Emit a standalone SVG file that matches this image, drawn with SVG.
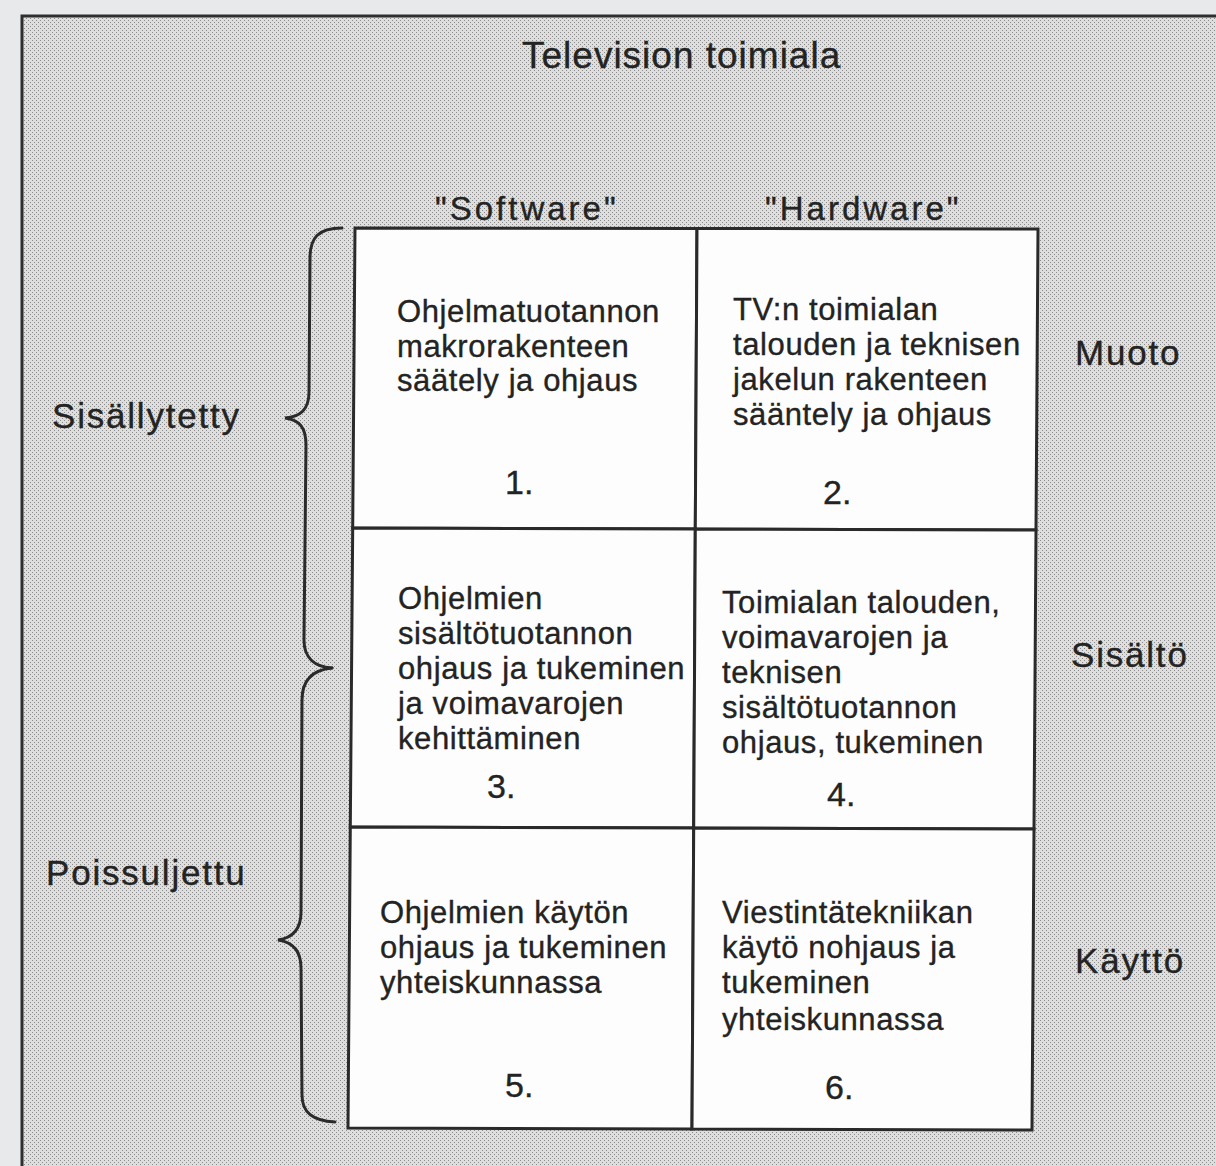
<svg xmlns="http://www.w3.org/2000/svg" width="1216" height="1166" viewBox="0 0 1216 1166">
  <defs>
    <pattern id="stip" x="0" y="0" width="4" height="4" patternUnits="userSpaceOnUse">
      <rect width="4" height="4" fill="#dedede"/>
      <rect x="0" y="0" width="1" height="1" fill="#8c8c8c"/>
      <rect x="2" y="2" width="1" height="1" fill="#8c8c8c"/>
    </pattern>
    <style>
      text { font-family: "Liberation Sans", Arial, Helvetica, sans-serif; fill: #232323; stroke: #232323; stroke-width: 0.35; }
      .title { font-size: 37px; letter-spacing: 1px; }
      .hdr { font-size: 33px; letter-spacing: 3px; }
      .side { font-size: 35px; letter-spacing: 1.8px; }
      .cell { font-size: 31px; letter-spacing: 0.6px; }
      .num { font-size: 34px; }
      .cellbox { fill: #fdfdfd; stroke: #2a2a2a; stroke-width: 3; stroke-linejoin: miter; }
      .brace { fill: none; stroke: #2a2a2a; stroke-width: 3; stroke-linecap: round; }
    </style>
  </defs>

  <!-- background -->
  <rect x="0" y="0" width="1216" height="1166" fill="#e7e9ea"/>
  <rect x="22" y="16" width="1194" height="1150" fill="url(#stip)"/>
  <path d="M 22 1166 L 22 16 L 1216 16" fill="none" stroke="#2e2e2e" stroke-width="3"/>

  <g id="title">
    <text class="title" x="522" y="68">Television toimiala</text>
  </g>

  <g id="header-software">
    <text class="hdr" x="435" y="220">"Software"</text>
  </g>
  <g id="header-hardware">
    <text class="hdr" x="765" y="220">"Hardware"</text>
  </g>

  <g id="cell1">
    <polygon class="cellbox" points="355,228 697,228.5 695.3,529 352.7,528"/>
    <text class="cell" x="397" y="322">Ohjelmatuotannon</text>
    <text class="cell" x="397" y="357">makrorakenteen</text>
    <text class="cell" x="397" y="391">säätely ja ohjaus</text>
    <text class="num" x="505" y="494">1.</text>
  </g>
  <g id="cell2">
    <polygon class="cellbox" points="697,228.5 1038,229 1036,530 695.3,529"/>
    <text class="cell" x="733" y="320">TV:n toimialan</text>
    <text class="cell" x="733" y="355">talouden ja teknisen</text>
    <text class="cell" x="733" y="390">jakelun rakenteen</text>
    <text class="cell" x="733" y="425">sääntely ja ohjaus</text>
    <text class="num" x="823" y="504">2.</text>
  </g>
  <g id="cell3">
    <polygon class="cellbox" points="352.7,528 695.3,529 693.7,828 350.3,827"/>
    <text class="cell" x="398" y="609">Ohjelmien</text>
    <text class="cell" x="398" y="644">sisältötuotannon</text>
    <text class="cell" x="398" y="679">ohjaus ja tukeminen</text>
    <text class="cell" x="398" y="714">ja voimavarojen</text>
    <text class="cell" x="398" y="749">kehittäminen</text>
    <text class="num" x="487" y="798">3.</text>
  </g>
  <g id="cell4">
    <polygon class="cellbox" points="695.3,529 1036,530 1034,829 693.7,828"/>
    <text class="cell" x="722" y="613">Toimialan talouden,</text>
    <text class="cell" x="722" y="648">voimavarojen ja</text>
    <text class="cell" x="722" y="683">teknisen</text>
    <text class="cell" x="722" y="718">sisältötuotannon</text>
    <text class="cell" x="722" y="753">ohjaus, tukeminen</text>
    <text class="num" x="827" y="806">4.</text>
  </g>
  <g id="cell5">
    <polygon class="cellbox" points="350.3,827 693.7,828 692,1129 348,1128"/>
    <text class="cell" x="380" y="923">Ohjelmien käytön</text>
    <text class="cell" x="380" y="958">ohjaus ja tukeminen</text>
    <text class="cell" x="380" y="993">yhteiskunnassa</text>
    <text class="num" x="505" y="1097">5.</text>
  </g>
  <g id="cell6">
    <polygon class="cellbox" points="693.7,828 1034,829 1032,1130 692,1129"/>
    <text class="cell" x="722" y="923">Viestintätekniikan</text>
    <text class="cell" x="722" y="958">käytö nohjaus ja</text>
    <text class="cell" x="722" y="993">tukeminen</text>
    <text class="cell" x="722" y="1030">yhteiskunnassa</text>
    <text class="num" x="825" y="1099">6.</text>
  </g>

  <g id="label-muoto">
    <text class="side" x="1075" y="365">Muoto</text>
  </g>
  <g id="label-sisalto">
    <text class="side" x="1071" y="667">Sisältö</text>
  </g>
  <g id="label-kaytto">
    <text class="side" x="1075" y="973">Käyttö</text>
  </g>

  <g id="label-sisallytetty">
    <text class="side" x="52" y="428">Sisällytetty</text>
  </g>
  <g id="label-poissuljettu">
    <text class="side" x="46" y="885">Poissuljettu</text>
  </g>

  <g id="connectors">
    <path class="brace" d="M 342 228 C 318 228, 310 238, 310 258 L 309 392 C 309 410, 300 417, 285 418 C 300 420, 306 428, 306 445 L 304 640 C 304 658, 315 667, 332 668"/>
    <path class="brace" d="M 332 668 C 312 670, 302 680, 302 700 L 301 912 C 301 930, 292 938, 278 940 C 292 942, 301 950, 301 968 L 302 1095 C 302 1112, 312 1121, 335 1122"/>
  </g>
</svg>
